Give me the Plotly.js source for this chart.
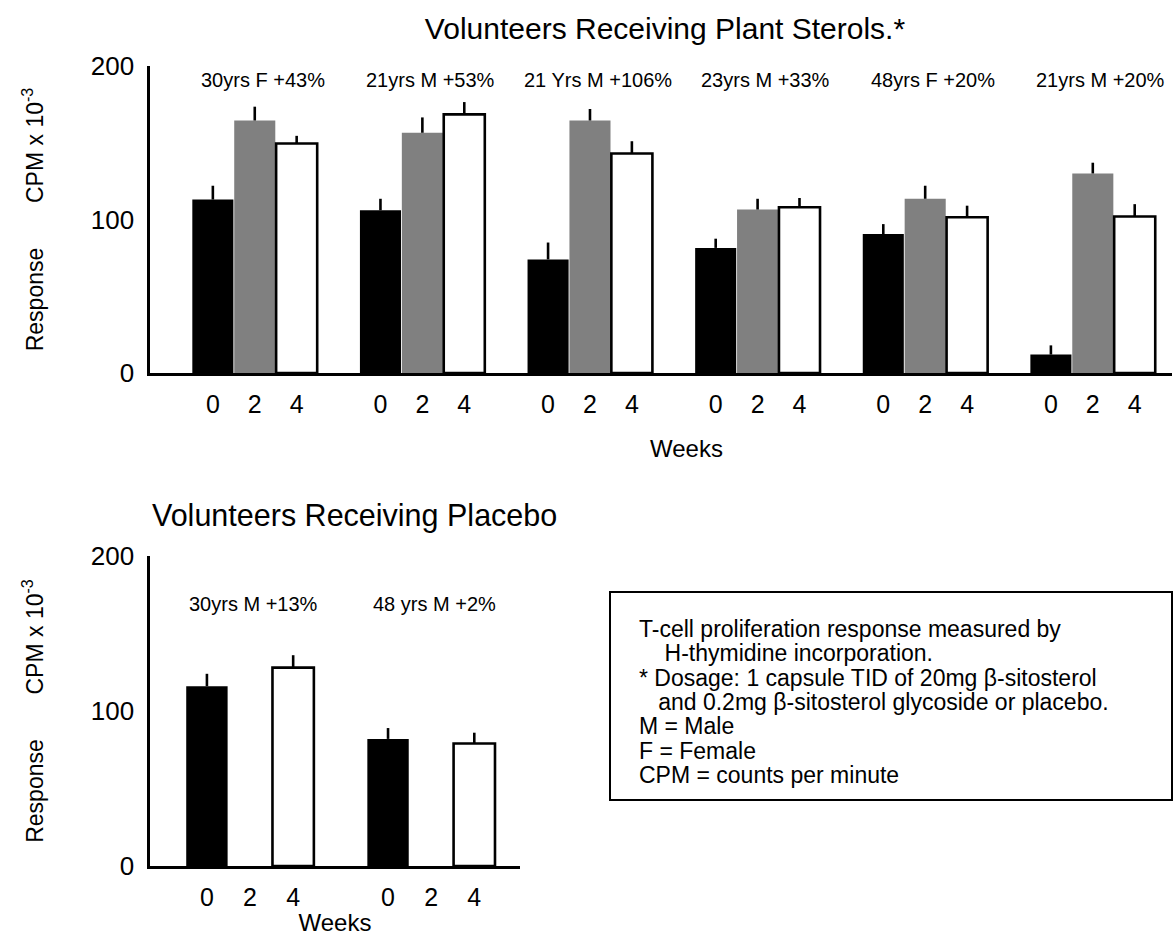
<!DOCTYPE html>
<html>
<head>
<meta charset="utf-8">
<script src="https://cdn.plot.ly/plotly-3.0.1.min.js"></script>
<style>html,body{margin:0;padding:0;background:#fff;}#chart{width:1176px;height:936px;}</style>
</head>
<body>
<div id="chart"></div>
<script>
// ---------- data ----------
const weekLabels = ['0', '2', '4'];

const sterolGroups = ['30yrs F +43%', '21yrs M +53%', '21 Yrs M +106%', '23yrs M +33%', '48yrs F +20%', '21yrs M +20%'];
const sterolWeek0 = [113, 106, 74, 81.5, 90.5, 12];
const sterolWeek0Err = [9, 7.5, 11, 6, 6.5, 6];
const sterolWeek2 = [164.5, 156.5, 164.5, 106.5, 113.5, 130];
const sterolWeek2Err = [9, 10, 7.5, 7, 8.5, 7];
const sterolWeek4 = [149.5, 168.5, 143, 108, 101.5, 102];
const sterolWeek4Err = [5, 8, 8, 6, 7.5, 8];

const placeboGroups = ['30yrs M +13%', '48 yrs M +2%'];
const placeboWeek0 = [116, 82];
const placeboWeek0Err = [8, 7];
const placeboWeek2 = [null, null];
const placeboWeek2Err = [0, 0];
const placeboWeek4 = [128, 79];
const placeboWeek4Err = [8, 7];

const noteLines = [
  'T-cell proliferation response measured by',
  '\u00a0\u00a0\u00a0\u00a0H-thymidine incorporation.',
  '* Dosage: 1 capsule TID of 20mg \u03b2-sitosterol',
  '\u00a0\u00a0\u00a0and 0.2mg \u03b2-sitosterol glycoside or placebo.',
  'M = Male',
  'F = Female',
  'CPM = counts per minute'
];

// ---------- styling / layout helpers ----------
const FONT = 'Liberation Sans, Arial, Helvetica, sans-serif';
const W = 1176, H = 936;
const M = {l: 150, r: 4, t: 66, b: 70};
const PW = W - M.l - M.r, PH = H - M.t - M.b;
const px2x = p => (p - M.l) / PW;          // page px -> paper x
const px2y = p => (H - M.b - p) / PH;      // page px -> paper y

const barFill = ['#000000', '#808080', '#ffffff'];
const barLine = [0, 0, 2.6];

function positions(n, step, k) {
  const out = [];
  for (let g = 0; g < n; g++) out.push(g * step + k);
  return out;
}

function makeTraces(groups, series, errs, step, xa, ya, width) {
  return series.map((vals, k) => ({
    type: 'bar',
    x: positions(groups.length, step, k),
    y: vals,
    width: width,
    xaxis: xa, yaxis: ya,
    marker: {color: barFill[k], line: {color: '#000', width: barLine[k]}},
    error_y: {type: 'data', symmetric: false, array: errs[k], arrayminus: errs[k].map(() => 0),
              color: '#000', thickness: 2.6, width: 0},
    showlegend: false,
    hoverinfo: 'skip'
  }));
}

const STEP_TOP = 4, STEP_BOT = 4.2;

const traces = [].concat(
  makeTraces(sterolGroups, [sterolWeek0, sterolWeek2, sterolWeek4],
             [sterolWeek0Err, sterolWeek2Err, sterolWeek4Err], STEP_TOP, 'x', 'y', 0.98),
  makeTraces(placeboGroups, [placeboWeek0, placeboWeek2, placeboWeek4],
             [placeboWeek0Err, placeboWeek2Err, placeboWeek4Err], STEP_BOT, 'x2', 'y2', 0.96)
);

function tickVals(n, step) {
  const v = [], t = [];
  for (let g = 0; g < n; g++) for (let k = 0; k < weekLabels.length; k++) { v.push(g * step + k); t.push(weekLabels[k]); }
  return {v, t};
}
const tTop = tickVals(sterolGroups.length, STEP_TOP);
const tBot = tickVals(placeboGroups.length, STEP_BOT);

const yTitle = 'Response\u00a0\u00a0\u00a0\u00a0\u00a0\u00a0\u00a0CPM x 10<sup>-3</sup>';

const xBase = {
  showline: true, linecolor: '#000', linewidth: 2.6, ticks: '', showgrid: false, zeroline: false,
  tickmode: 'array', tickfont: {family: FONT, size: 25, color: '#000'}, ticklabelstandoff: 7,
  fixedrange: true
};
const yBase = {
  showline: true, linecolor: '#000', linewidth: 2.6, ticks: '', showgrid: false, zeroline: false,
  range: [0, 200], tickvals: [0, 100, 200], tickfont: {family: FONT, size: 26, color: '#000'},
  ticklabelstandoff: 8, fixedrange: true
};

const annotations = [];
sterolGroups.forEach((txt, g) => annotations.push({
  text: txt, xref: 'x', yref: 'y', x: g * STEP_TOP + 1, y: 191, xshift: 8, showarrow: false,
  font: {family: FONT, size: 20, color: '#000'}, xanchor: 'center', yanchor: 'middle'
}));
placeboGroups.forEach((txt, g) => annotations.push({
  text: txt, xref: 'x2', yref: 'y2', x: g * STEP_BOT + 1, y: 169, xshift: 3, showarrow: false,
  font: {family: FONT, size: 20, color: '#000'}, xanchor: 'center', yanchor: 'middle'
}));
annotations.push({
  text: 'Weeks', xref: 'paper', yref: 'paper', x: px2x(686), y: px2y(448),
  showarrow: false, xanchor: 'center', yanchor: 'middle', font: {family: FONT, size: 24, color: '#000'}
});
annotations.push({
  text: 'Volunteers Receiving Placebo', xref: 'paper', yref: 'paper', x: px2x(354), y: px2y(515),
  showarrow: false, xanchor: 'center', yanchor: 'middle', font: {family: FONT, size: 30.5, color: '#000'}
});
noteLines.forEach((txt, i) => annotations.push({
  text: txt, xref: 'paper', yref: 'paper', x: px2x(637), y: px2y(629 + i * 24.3),
  showarrow: false, xanchor: 'left', yanchor: 'middle', font: {family: FONT, size: 23, color: '#000'}
}));

const layout = {
  width: W, height: H,
  margin: M,
  paper_bgcolor: '#fff', plot_bgcolor: 'rgba(0,0,0,0)',
  font: {family: FONT, color: '#000'},
  barmode: 'overlay',
  title: {text: 'Volunteers Receiving Plant Sterols.*', x: 665 / W, y: 1 - 28 / H, xref: 'container', yref: 'container',
          xanchor: 'center', yanchor: 'middle', font: {family: FONT, size: 30, color: '#000'}},
  xaxis: Object.assign({}, xBase, {domain: [0, 1], anchor: 'y', range: [-1.5, 22.89],
          tickvals: tTop.v, ticktext: tTop.t}),
  yaxis: Object.assign({}, yBase, {domain: [px2y(373), px2y(66)], anchor: 'x',
          title: {text: yTitle, font: {family: FONT, size: 23, color: '#000'}, standoff: 41}}),
  xaxis2: Object.assign({}, xBase, {domain: [0, px2x(520)], anchor: 'y2', range: [-1.32, 7.26],
          tickvals: tBot.v, ticktext: tBot.t,
          title: {text: 'Weeks', font: {family: FONT, size: 24, color: '#000'}, standoff: 10}}),
  yaxis2: Object.assign({}, yBase, {domain: [0, px2y(556)], anchor: 'x2',
          title: {text: yTitle, font: {family: FONT, size: 23, color: '#000'}, standoff: 41}}),
  shapes: [{type: 'rect', xref: 'paper', yref: 'paper', x0: px2x(610), x1: px2x(1172), y0: px2y(800), y1: px2y(592),
            line: {color: '#000', width: 2}, fillcolor: 'rgba(0,0,0,0)'}],
  annotations: annotations
};

Plotly.newPlot('chart', traces, layout, {displayModeBar: false, staticPlot: true});
</script>
</body>
</html>
